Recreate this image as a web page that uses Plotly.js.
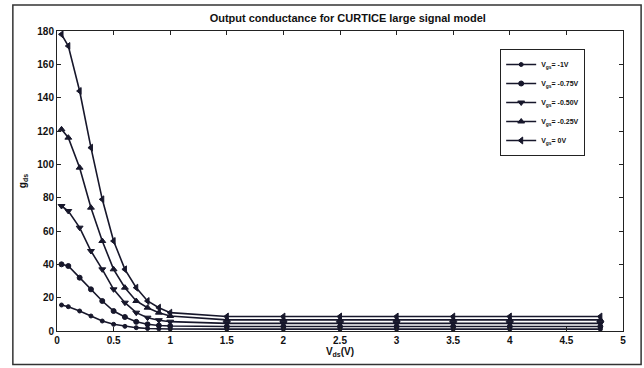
<!DOCTYPE html>
<html>
<head>
<meta charset="utf-8">
<script src="https://cdn.plot.ly/plotly-3.0.1.min.js"></script>
<style>
  html, body { margin: 0; padding: 0; background: #ffffff; }
  #chart { width: 644px; height: 368px; }
</style>
</head>
<body>
<div id="chart"></div>
<script>
// Drain voltage sample points (V)
const vds = [0.04, 0.1, 0.2, 0.3, 0.4, 0.5, 0.6, 0.7, 0.8, 0.9, 1.0, 1.5, 2, 2.5, 3, 3.5, 4, 4.8];

// Output conductance g_ds for each gate voltage
const gdsVgsM100 = [15.6, 14.6, 12, 9, 6, 4, 2.8, 2, 1.5, 1.3, 1.2, 1.1, 1.1, 1.1, 1.1, 1.1, 1.1, 1.1];
const gdsVgsM075 = [40, 39, 32, 25, 18, 12, 8.4, 5.5, 4, 3.3, 3, 2.7, 2.7, 2.7, 2.7, 2.7, 2.7, 2.7];
const gdsVgsM050 = [75, 72, 62, 48, 37, 25, 17, 11, 8, 6.5, 5.6, 4.6, 4.6, 4.6, 4.6, 4.6, 4.6, 4.6];
const gdsVgsM025 = [121, 116, 98, 74, 54, 37, 26, 18, 14, 11, 9, 6.7, 6.7, 6.7, 6.7, 6.7, 6.7, 6.7];
const gdsVgs000 = [178, 171, 144, 110, 79, 54, 37, 26, 18, 14, 11, 8.7, 8.7, 8.7, 8.7, 8.7, 8.7, 8.7];

const seriesNames = ['V<sub>gs</sub>= -1V', 'V<sub>gs</sub>= -0.75V', 'V<sub>gs</sub>= -0.50V', 'V<sub>gs</sub>= -0.25V', 'V<sub>gs</sub>= 0V'];
const seriesData = [gdsVgsM100, gdsVgsM075, gdsVgsM050, gdsVgsM025, gdsVgs000];
const seriesSymbols = ['circle', 'circle', 'triangle-down', 'triangle-up', 'triangle-left'];
const seriesSizes = [4, 5, 6, 6, 6];

const xTicks = [0, 0.5, 1, 1.5, 2, 2.5, 3, 3.5, 4, 4.5, 5];
const yTicks = [0, 20, 40, 60, 80, 100, 120, 140, 160, 180];

const ink = '#17172b';
const traces = seriesData.map((g, i) => ({
  x: vds,
  y: g,
  name: seriesNames[i],
  type: 'scatter',
  mode: 'lines+markers',
  line: { color: ink, width: 1.6 },
  marker: { symbol: seriesSymbols[i], size: seriesSizes[i], color: ink, line: { color: ink, width: 1 } }
}));

const axisFont = { family: 'Liberation Sans, Arial, sans-serif', size: 10, color: '#111', weight: 'bold' };

const layout = {
  width: 644,
  height: 368,
  margin: { l: 57, r: 21, t: 31, b: 37 },
  paper_bgcolor: '#ffffff',
  plot_bgcolor: '#ffffff',
  showlegend: true,
  title: {
    text: 'Output conductance for CURTICE large signal model',
    font: { family: 'Liberation Sans, Arial, sans-serif', size: 11, color: '#111', weight: 'bold' },
    x: 0.54, xanchor: 'center', y: 0.95, yanchor: 'middle'
  },
  xaxis: {
    range: [0, 5],
    tickvals: xTicks,
    ticktext: xTicks.map(String),
    ticks: 'inside', ticklen: 4, tickcolor: '#222',
    showline: true, linecolor: '#222', linewidth: 1, mirror: 'ticks',
    showgrid: false, zeroline: false,
    tickfont: axisFont,
    title: { text: 'V<sub>ds</sub>(V)', font: axisFont, standoff: 2 }
  },
  yaxis: {
    range: [0, 180],
    tickvals: yTicks,
    ticks: 'inside', ticklen: 4, tickcolor: '#222',
    showline: true, linecolor: '#222', linewidth: 1, mirror: 'ticks',
    showgrid: false, zeroline: false,
    tickfont: axisFont,
    title: { text: 'g<sub>ds</sub>', font: axisFont, standoff: 8 }
  },
  legend: {
    x: 0.783, y: 0.94, xanchor: 'left', yanchor: 'top',
    bgcolor: '#ffffff', bordercolor: '#222', borderwidth: 1,
    font: { family: 'Liberation Sans, Arial, sans-serif', size: 7, color: '#111', weight: 'bold' },
    tracegroupgap: 0, itemwidth: 30
  },
  shapes: [{
    type: 'rect', xref: 'paper', yref: 'paper',
    x0: -0.078, x1: 1.032, y0: -0.112, y1: 1.087,
    line: { color: '#333', width: 1.5 }, fillcolor: 'rgba(0,0,0,0)', layer: 'below'
  }]
};

Plotly.newPlot('chart', traces, layout, { displayModeBar: false, staticPlot: true });
</script>
</body>
</html>
